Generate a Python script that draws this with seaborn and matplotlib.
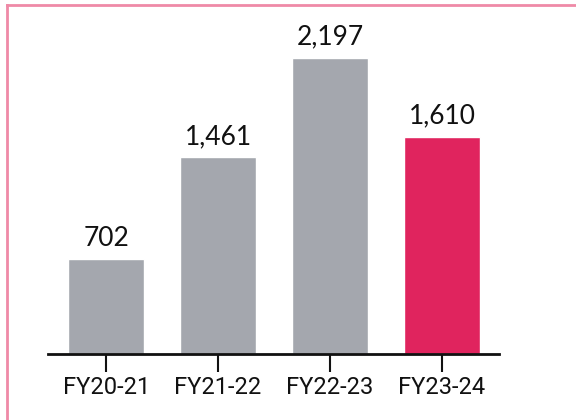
import matplotlib
matplotlib.use("Agg")
import matplotlib.pyplot as plt
import seaborn as sns
import pandas as pd
from matplotlib.lines import Line2D

# data
years = ["FY20-21", "FY21-22", "FY22-23", "FY23-24"]
values = [702, 1461, 2197, 1610]
colors = ["#a4a7ae", "#a4a7ae", "#a4a7ae", "#e0245e"]

df = pd.DataFrame({"year": years, "value": values})

sns.set_style("white")
plt.rcParams["font.family"] = ["Roboto", "DejaVu Sans"]
fig = plt.figure(figsize=(5.76, 4.2), dpi=100)
ax = fig.add_axes([0.0833, 0.157, 0.783, 0.819])

sns.barplot(data=df, x="year", y="value", hue="year", palette=colors,
            width=0.68, legend=False, ax=ax, saturation=1)

for i, v in enumerate(values):
    ax.text(i, v + 60, f"{v:,}", ha="center", va="bottom",
            fontsize=19, family="Lato", color="#111111")

ax.set_xlim(-0.52, 3.51)
ax.set_ylim(0, 2550)
ax.set_xlabel("")
ax.set_ylabel("")
ax.set_yticks([])
for s in ["top", "right", "left"]:
    ax.spines[s].set_visible(False)
ax.spines["bottom"].set_linewidth(2)
ax.spines["bottom"].set_color("#111111")
ax.tick_params(axis="x", bottom=True, direction="out", length=13, width=1.5,
               color="#111111", pad=3, labelsize=17, labelcolor="#111111",
               labelfontfamily="Roboto")

# pink frame (left and top edges only visible)
fig.add_artist(Line2D([6.5 / 576, 6.5 / 576], [0, 1 - 4.5 / 420], transform=fig.transFigure,
                      color="#ef8aa7", linewidth=2, solid_capstyle="projecting"))
fig.add_artist(Line2D([6.5 / 576, 1], [1 - 4.5 / 420, 1 - 4.5 / 420], transform=fig.transFigure,
                      color="#ef8aa7", linewidth=2, solid_capstyle="projecting"))

fig.savefig("out.png", dpi=100)
